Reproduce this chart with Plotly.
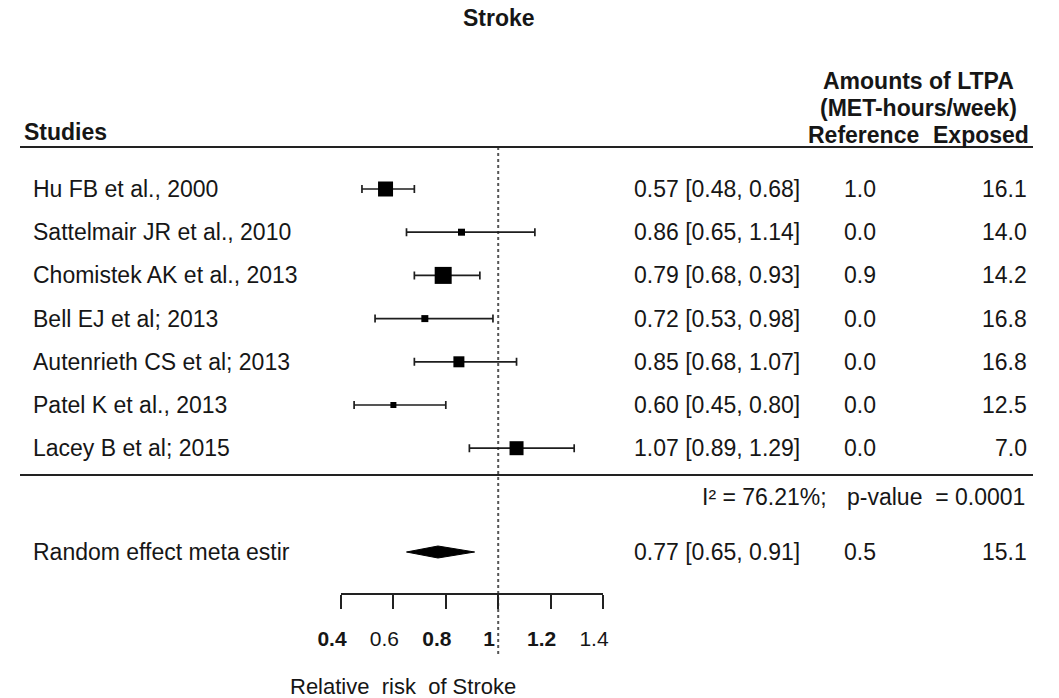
import plotly.graph_objects as go

# ---- study-level results ----
studies = [
    "Hu FB et al., 2000",
    "Sattelmair JR et al., 2010",
    "Chomistek AK et al., 2013",
    "Bell EJ et al; 2013",
    "Autenrieth CS et al; 2013",
    "Patel K et al., 2013",
    "Lacey B et al; 2015",
]
rr = [0.57, 0.86, 0.79, 0.72, 0.85, 0.60, 1.07]
ci_low = [0.48, 0.65, 0.68, 0.53, 0.68, 0.45, 0.89]
ci_high = [0.68, 1.14, 0.93, 0.98, 1.07, 0.80, 1.29]
ltpa_reference = [1.0, 0.0, 0.9, 0.0, 0.0, 0.0, 0.0]
ltpa_exposed = [16.1, 14.0, 14.2, 16.8, 16.8, 12.5, 7.0]

# ---- pooled estimate and heterogeneity ----
pooled_label = "Random effect meta estir"
pooled_rr = 0.77
pooled_low = 0.65
pooled_high = 0.91
pooled_reference = 0.5
pooled_exposed = 15.1
i_squared = 76.21
p_value = 0.0001

# ---- axis ----
axis_ticks = [0.4, 0.6, 0.8, 1.0, 1.2, 1.4]
axis_tick_labels = ["<b>0.4</b>", "0.6", "<b>0.8</b>", "<b>1</b>", "<b>1.2</b>", "1.4"]

# ---- styling ----
box_px = [15, 7, 17, 7, 11, 6, 14]          # square size per study (study weight)
W, H = 1059, 698
FONT = "Liberation Sans, Arial, sans-serif"
TXT = "#161616"
FS = 23
ROW0, ROW_STEP = 189, 43.2                  # vertical layout in pixels
AXIS_Y = 593
POOLED_Y = 552
HET_Y = 497


def px(x):
    return x / W


def py(y):
    return 1 - y / H


rows = [ROW0 + ROW_STEP * i for i in range(len(studies))]

fig = go.Figure()

# confidence intervals and weighted squares
fig.add_trace(go.Scatter(
    x=rr, y=rows, mode="markers",
    marker=dict(symbol="square", size=box_px, color="black", opacity=1, line=dict(width=0)),
    error_x=dict(type="data", symmetric=False,
                 array=[h - m for h, m in zip(ci_high, rr)],
                 arrayminus=[m - l for m, l in zip(rr, ci_low)],
                 color="#1e1e1e", thickness=1.7, width=4),
    hoverinfo="skip", showlegend=False,
))

# pooled diamond
half_h = 6
fig.add_trace(go.Scatter(
    x=[pooled_low, pooled_rr, pooled_high, pooled_rr, pooled_low],
    y=[POOLED_Y, POOLED_Y - half_h, POOLED_Y, POOLED_Y + half_h, POOLED_Y],
    mode="lines", fill="toself", fillcolor="black",
    line=dict(color="black", width=1),
    hoverinfo="skip", showlegend=False,
))

ann = []


def text(x, y, s, anchor="left", bold=False, size=FS, yref="y"):
    ann.append(dict(
        x=px(x), y=y, xref="paper", yref=yref, text=f"<b>{s}</b>" if bold else s,
        showarrow=False, xanchor=anchor, yanchor="middle",
        font=dict(family=FONT, size=size, color=TXT),
    ))


# headers
text(499, py(18), "Stroke", anchor="center", bold=True, size=23, yref="paper")
text(22, 132, "Studies", bold=True)
text(918, 81, "Amounts of LTPA", anchor="center", bold=True)
text(918, 108, "(MET-hours/week)", anchor="center", bold=True)
text(806, 135, "Reference", bold=True)
text(1031, 135, "Exposed", anchor="right", bold=True)

# study rows
for name, m, lo, hi, ref, exp, y in zip(studies, rr, ci_low, ci_high,
                                        ltpa_reference, ltpa_exposed, rows):
    text(31, y, name)
    text(802, y, f"{m:.2f} [{lo:.2f}, {hi:.2f}]", anchor="right")
    text(842, y, f"{ref:.1f}")
    text(1029, y, f"{exp:.1f}", anchor="right")

# heterogeneity row
text(829, HET_Y, f"I\u00b2 = {i_squared:.2f}%;", anchor="right")
text(1027, HET_Y, f"p-value \u00a0= {p_value:.4f}", anchor="right")

# pooled row
text(31, POOLED_Y, pooled_label)
text(802, POOLED_Y, f"{pooled_rr:.2f} [{pooled_low:.2f}, {pooled_high:.2f}]", anchor="right")
text(842, POOLED_Y, f"{pooled_reference:.1f}")
text(1029, POOLED_Y, f"{pooled_exposed:.1f}", anchor="right")

# x-axis title
text(403, py(686), "Relative \u00a0risk \u00a0of Stroke", anchor="center", size=22, yref="paper")

shapes = [
    dict(type="line", xref="paper", yref="y", x0=px(20), x1=px(1033), y0=147, y1=147,
         line=dict(color="#222222", width=2)),
    dict(type="line", xref="paper", yref="y", x0=px(20), x1=px(1033), y0=475, y1=475,
         line=dict(color="#222222", width=2)),
    dict(type="line", xref="x", yref="paper", x0=1, x1=1, y0=py(147), y1=py(655),
         line=dict(color="#555555", width=2, dash="dot"), layer="below"),
]

fig.update_layout(
    width=W, height=H,
    margin=dict(l=0, r=0, t=0, b=0, pad=0, autoexpand=False),
    paper_bgcolor="white", plot_bgcolor="white",
    annotations=ann, shapes=shapes,
    xaxis=dict(
        domain=[px(341), px(603)], range=[0.4, 1.4],
        tickvals=axis_ticks, ticktext=axis_tick_labels,
        showline=True, linecolor="#222222", linewidth=2,
        ticks="outside", ticklen=14, tickwidth=2, tickcolor="#222222",
        tickfont=dict(family=FONT, size=21, color=TXT),
        ticklabelstandoff=12, ticklabelshift=-9,
        showgrid=False, zeroline=False, fixedrange=True, automargin=False,
    ),
    yaxis=dict(
        domain=[py(AXIS_Y), 1], range=[AXIS_Y, 0],
        visible=False, showgrid=False, zeroline=False, fixedrange=True, automargin=False,
    ),
    hovermode=False,
)

fig.write_html("out.html")
